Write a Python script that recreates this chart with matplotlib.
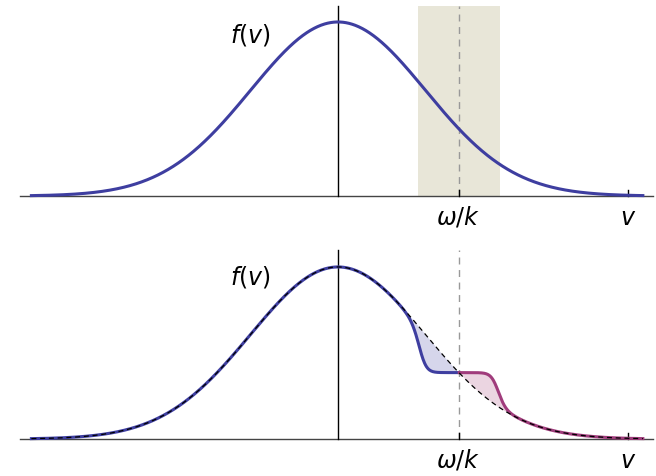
import numpy as np
import matplotlib.pyplot as plt

# velocity grid (units of thermal spread), resonant velocity and plateau shape
v = np.linspace(-3.50, 3.48, 1200)
v_res = 1.38           # omega/k
band = [0.91, 1.85]    # resonant band in the upper panel
v_tick = 3.31
plateau_half = 0.44
plateau_edge = 0.085

blue = '#3e3ea0'
purple = '#a03c7c'


def maxwell(x):
    return np.exp(-x ** 2 / 2)


def flattened(x):
    f0 = maxwell(v_res)
    s = 0.5 * (1 + np.tanh((np.abs(x - v_res) - plateau_half) / plateau_edge))
    return f0 + (maxwell(x) - f0) * s


def draw_axes(ax, top):
    ax.set_axis_off()
    ax.plot([-3.63, 3.596], [0, 0], color='#444444', lw=1, zorder=1)
    ax.plot([0, 0], [0, top], color='black', lw=1, zorder=1)
    ax.plot([v_res, v_res], [0, top], color='#999999', lw=1, dashes=(5, 4), zorder=1)
    ax.plot([v_tick, v_tick], [0, 0.035], color='black', lw=1)
    ax.plot([v_res, v_res], [0, 0.035], color='black', lw=1)
    ax.set_xlim(-338 / 87.6, (656 - 338) / 87.6)


fig = plt.figure(figsize=(6.56, 4.77), dpi=100)

# upper panel: Maxwellian with resonant band
ax1 = fig.add_axes([0, 239 / 477, 1, 238 / 477])
ax1.set_ylim(-0.2356, 1.132)
ax1.axvspan(band[0], band[1], ymin=(0.2356) / 1.3676, ymax=(0.2356 + 1.092) / 1.3676,
            color='#e8e6d8', lw=0, zorder=0)
draw_axes(ax1, 1.092)
ax1.plot(v, maxwell(v), color=blue, lw=2.2, zorder=3)

# lower panel: quasi-linear plateau around omega/k
ax2 = fig.add_axes([0, 0, 1, 239 / 477])
ax2.set_ylim(-0.215, 1.174)
draw_axes(ax2, 1.099)
f = maxwell(v)
g = flattened(v)
left = v <= v_res
right = v >= v_res
ax2.fill_between(v[left], g[left], f[left], color='#d6d6eb', lw=0, zorder=2)
ax2.fill_between(v[right], g[right], f[right], color='#ebd5e1', lw=0, zorder=2)
ax2.plot(v[left], g[left], color=blue, lw=2.2, zorder=3)
ax2.plot(v[right], g[right], color=purple, lw=2.2, zorder=3)
ax2.plot(v, f, color='black', lw=0.9, dashes=(4, 3), zorder=4)

# labels placed by baseline in figure pixels
for y0 in (0, 243):
    fig.text(250 / 656, 1 - (42 + y0) / 477, r'$f(v)$', fontsize=17,
             ha='center', va='baseline')
    fig.text(458 / 656, 1 - (225 + y0) / 477, r'$\omega/k$', fontsize=17,
             ha='center', va='baseline')
    fig.text(628 / 656, 1 - (225 + y0) / 477, r'$v$', fontsize=17,
             ha='center', va='baseline')

fig.savefig('out.png', dpi=100)
